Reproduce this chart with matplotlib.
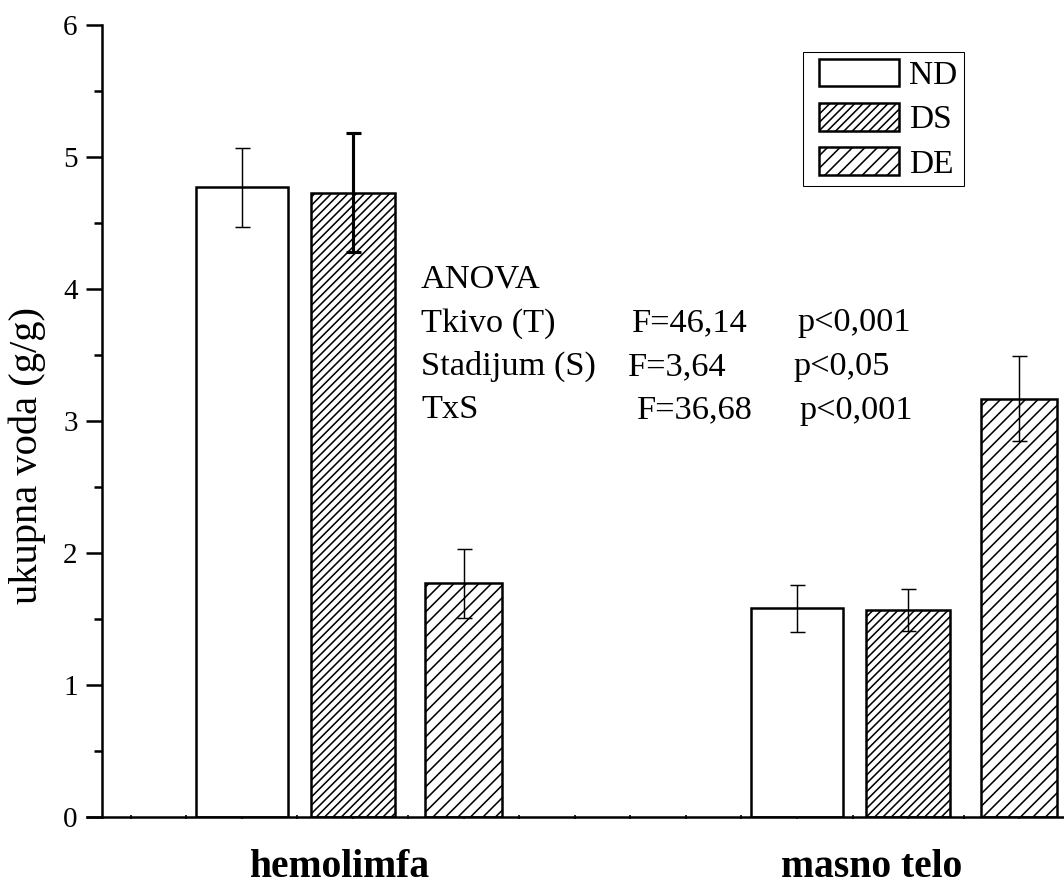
import matplotlib
matplotlib.use('Agg')
import matplotlib.pyplot as plt
import numpy as np
from matplotlib.ticker import MultipleLocator
from matplotlib.container import BarContainer
from matplotlib.legend_handler import HandlerPatch, update_from_first_child

plt.rcParams['font.family'] = ['Liberation Serif', 'DejaVu Serif']
plt.rcParams['hatch.linewidth'] = 0.75
plt.rcParams['hatch.color'] = 'black'

# ---------------- data ----------------
categories = ['hemolimfa', 'masno telo']
series = ['ND', 'DS', 'DE']
nd_vals = [4.77, 1.58]
ds_vals = [4.73, 1.57]
de_vals = [1.77, 3.17]
nd_err = [0.30, 0.18]
ds_err = [0.45, 0.16]
de_err = [0.26, 0.32]
yticks = [0, 1, 2, 3, 4, 5, 6]
anova_title = 'ANOVA'
anova_effects = ['Tkivo (T)', 'Stadijum (S)', 'TxS']
anova_F = ['F=46,14', 'F=3,64', 'F=36,68']
anova_p = ['p<0,001', 'p<0,05', 'p<0,001']
ylabel = 'ukupna voda (g/g)'

# ---------------- figure ----------------
DPI = 150
W, H = 1064, 884
fig = plt.figure(figsize=(W / DPI, H / DPI), dpi=DPI)

def fx(px):
    return px / W

def fy(py):
    return 1 - py / H

ax = fig.add_axes([fx(87), fy(817), fx(1064) - fx(87), fy(25) - fy(817)])

group_pos = np.array([6.0, 16.0])
offsets = [-2.0, 0.0, 2.0]
widths = [1.67, 1.51, 1.385]
hatches = ['', '//////', '////']
values = [nd_vals, ds_vals, de_vals]
errors = [nd_err, ds_err, de_err]
err_lw = [[0.7, 0.7], [1.5, 0.7], [0.7, 0.7]]

for i, name in enumerate(series):
    xs = group_pos + offsets[i]
    ax.bar(xs, values[i], width=widths[i], color='white', edgecolor='black',
           linewidth=1.2, hatch=hatches[i], label=name, zorder=2)
    for j in range(len(categories)):
        ax.errorbar(xs[j], values[i][j], yerr=errors[i][j], fmt='none',
                    ecolor='black', elinewidth=err_lw[i][j], capsize=3.6,
                    capthick=err_lw[i][j], zorder=3)

ax.set_xlim(1.21, 18.81)
ax.set_ylim(0, 6)

for s in ['top', 'right']:
    ax.spines[s].set_visible(False)
ax.spines['left'].set_position(('data', 1.48))
ax.spines['left'].set_linewidth(1.2)
ax.spines['bottom'].set_linewidth(1.2)

ax.set_yticks(yticks)
ax.yaxis.set_minor_locator(MultipleLocator(0.5))
ax.tick_params(axis='y', which='major', direction='out', length=7.7, width=1.2,
               labelsize=14, pad=4)
ax.tick_params(axis='y', which='minor', direction='out', length=3.8, width=1.2)

ax.set_xticks(np.arange(2, 19, 1))
ax.tick_params(axis='x', which='major', direction='inout', length=2.2, width=0.8,
               labelbottom=False)

# category labels
cat_px = [339, 872]
for c, px in zip(categories, cat_px):
    fig.text(fx(px), fy(877), c, ha='center', va='baseline',
             fontsize=19, fontweight='bold')

# y label
fig.text(fx(27), fy(456), ylabel, rotation=90, ha='center', va='center',
         fontsize=19.5)

# ANOVA text
fs = 16.5
fig.text(fx(421), fy(288), anova_title, ha='left', va='baseline', fontsize=fs)
row_base = [331.5, 375, 418.5]
F_x = [632, 628, 637]
p_x = [797, 794, 799]
for k in range(len(anova_effects)):
    fig.text(fx(421), fy(row_base[k]), anova_effects[k], ha='left', va='baseline', fontsize=fs)
    fig.text(fx(F_x[k]), fy(row_base[k]), anova_F[k], ha='left', va='baseline', fontsize=fs)
    fig.text(fx(p_x[k]), fy(row_base[k]), anova_p[k], ha='left', va='baseline', fontsize=fs)

handler = HandlerPatch(xpad=0.27, update_func=update_from_first_child)
leg = ax.legend(loc='upper left', bbox_to_anchor=(fx(803), fy(52)),
                bbox_transform=fig.transFigure, borderaxespad=0,
                fontsize=16, handlelength=2.67, handleheight=0.9,
                handletextpad=0.3, labelspacing=0.36, borderpad=0.2,
                fancybox=False, framealpha=1, edgecolor='black',
                handler_map={BarContainer: handler})
leg.get_frame().set_linewidth(0.5)

fig.savefig('out.png', dpi=DPI)
